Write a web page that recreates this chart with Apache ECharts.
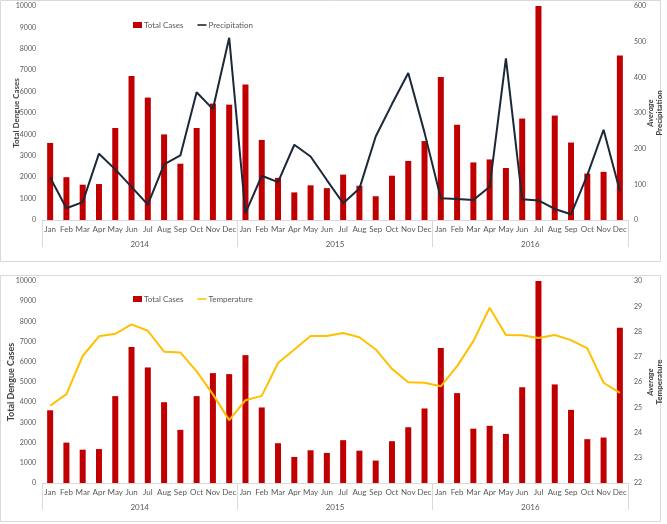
<!DOCTYPE html>
<html>
<head>
<meta charset="utf-8">
<script src="https://cdn.jsdelivr.net/npm/echarts@6/dist/echarts.min.js"></script>
<style>
html,body{margin:0;padding:0;background:#fff;}
#chart{width:667px;height:524px;}
</style>
</head>
<body>
<div id="chart"></div>
<script>
const monthNames = ['Jan','Feb','Mar','Apr','May','Jun','Jul','Aug','Sep','Oct','Nov','Dec'];
const years = ['2014','2015','2016'];
const months = [].concat(monthNames, monthNames, monthNames);
const totalCases = [3600,2000,1650,1680,4300,6730,5720,4000,2630,4300,5440,5390,
                    6330,3740,1970,1290,1620,1490,2120,1600,1110,2070,2760,3690,
                    6680,4450,2690,2830,2430,4740,10000,4880,3620,2170,2250,7690];
const precipitation = [119,33,50,186,142,93,43,156,181,358,311,511,
                       19,124,106,211,178,112,47,88,234,325,412,245,
                       61,59,56,93,453,58,55,31,16,126,253,81];
const temperature = [25.06,25.52,27.03,27.81,27.91,28.28,28.03,27.2,27.17,26.42,25.51,24.49,
                     25.28,25.45,26.75,27.29,27.82,27.82,27.94,27.77,27.29,26.52,25.99,25.97,
                     25.83,26.63,27.62,28.94,27.86,27.85,27.74,27.86,27.66,27.33,25.97,25.57];
const casesTicks = [0, 10000, 1000];
const precipTicks = [0, 600, 100];
const tempTicks = [22, 30, 1];

const FONT = 'Lato';
const GRAY = '#595959';
const LINEGRAY = '#d9d9d9';
const LINE_ICON = 'path://M0,0M9,6M0,2.2L9,2.2L9,3.8L0,3.8Z';
const chart = echarts.init(document.getElementById('chart'));

function monthAxis(gi) {
  return {
    type: 'category', gridIndex: gi, data: months, position: 'bottom',
    axisLine: {show: true, lineStyle: {color: LINEGRAY, width: 1}},
    axisTick: {show: false},
    axisLabel: {interval: 0, color: GRAY, fontSize: 8, fontFamily: FONT, margin: 5}
  };
}
function yearAxis(gi) {
  return {
    type: 'category', gridIndex: gi, data: years, position: 'bottom',
    axisLine: {show: false},
    axisTick: {show: true, interval: 0, length: 27, lineStyle: {color: LINEGRAY}},
    axisLabel: {interval: 0, color: GRAY, fontSize: 8, fontFamily: FONT, margin: 20}
  };
}
function plainLabel(v) { return String(v); }
function leftAxis(gi, ticks, nameGap, nameSize) {
  return {
    type: 'value', gridIndex: gi, position: 'left', min: ticks[0], max: ticks[1], interval: ticks[2],
    splitLine: {show: false}, axisLine: {show: false}, axisTick: {show: false},
    axisLabel: {color: GRAY, fontSize: 7, fontFamily: FONT, margin: 6, formatter: plainLabel},
    name: 'Total Dengue Cases', nameLocation: 'middle', nameRotate: 90, nameGap: nameGap,
    nameMoveOverlap: false,
    nameTextStyle: {color: '#404040', fontSize: nameSize, fontWeight: 'bold', fontFamily: FONT}
  };
}
function rightAxis(gi, ticks, second) {
  return {
    type: 'value', gridIndex: gi, position: 'right', min: ticks[0], max: ticks[1], interval: ticks[2],
    splitLine: {show: false}, axisLine: {show: false}, axisTick: {show: false},
    axisLabel: {color: GRAY, fontSize: 7, fontFamily: FONT, margin: 6, formatter: plainLabel},
    name: '{a|Average}\n{b|' + second + '}', nameLocation: 'middle', nameRotate: 90, nameGap: 18,
    nameMoveOverlap: false,
    nameTextStyle: {
      color: '#404040', fontFamily: FONT, lineHeight: 9,
      rich: {
        a: {fontSize: 8, fontStyle: 'italic', fontWeight: 'bold', color: '#404040', fontFamily: FONT, lineHeight: 9},
        b: {fontSize: 8, fontWeight: 'bold', color: '#404040', fontFamily: FONT, lineHeight: 9}
      }
    }
  };
}

chart.setOption({
  animation: false,
  backgroundColor: '#fff',
  graphic: [
    {type: 'rect', shape: {x: 0.5, y: 0.5, width: 660, height: 261}, style: {fill: 'none', stroke: LINEGRAY, lineWidth: 1}, z: -1},
    {type: 'rect', shape: {x: 0.5, y: 275.5, width: 660, height: 246}, style: {fill: 'none', stroke: LINEGRAY, lineWidth: 1}, z: -1}
  ],
  legend: [
    {left: 133, top: 21, padding: 0, itemWidth: 9, itemHeight: 6, itemGap: 14,
     textStyle: {color: GRAY, fontSize: 8, fontFamily: FONT, padding: [0, 0, 0, -3]},
     data: [{name: 'Total Cases', icon: 'rect'}, {name: 'Precipitation', icon: LINE_ICON}]},
    {left: 133, top: 295, padding: 0, itemWidth: 9, itemHeight: 6, itemGap: 14,
     textStyle: {color: GRAY, fontSize: 8, fontFamily: FONT, padding: [0, 0, 0, -3]},
     data: [{name: 'Total Cases', icon: 'rect'}, {name: 'Temperature', icon: LINE_ICON}]}
  ],
  grid: [
    {left: 42, top: 6, width: 586, height: 214, outerBoundsMode: 'none', containLabel: false},
    {left: 42, top: 281, width: 586, height: 202, outerBoundsMode: 'none', containLabel: false}
  ],
  xAxis: [monthAxis(0), yearAxis(0), monthAxis(1), yearAxis(1)],
  yAxis: [
    leftAxis(0, casesTicks, 22, 8),
    rightAxis(0, precipTicks, 'Precipitation'),
    leftAxis(1, casesTicks, 26, 9),
    rightAxis(1, tempTicks, 'Temperature')
  ],
  series: [
    {name: 'Total Cases', type: 'bar', xAxisIndex: 0, yAxisIndex: 0, data: totalCases,
     barWidth: 6, itemStyle: {color: '#C00000'}},
    {name: 'Precipitation', type: 'line', xAxisIndex: 0, yAxisIndex: 1, data: precipitation,
     symbol: 'none', lineStyle: {color: '#1b2838', width: 2}, itemStyle: {color: '#1b2838'}, z: 3},
    {name: 'Total Cases', type: 'bar', xAxisIndex: 2, yAxisIndex: 2, data: totalCases,
     barWidth: 6, itemStyle: {color: '#C00000'}},
    {name: 'Temperature', type: 'line', xAxisIndex: 2, yAxisIndex: 3, data: temperature,
     symbol: 'none', lineStyle: {color: '#FFC000', width: 2}, itemStyle: {color: '#FFC000'}, z: 3}
  ]
});
</script>
</body>
</html>
